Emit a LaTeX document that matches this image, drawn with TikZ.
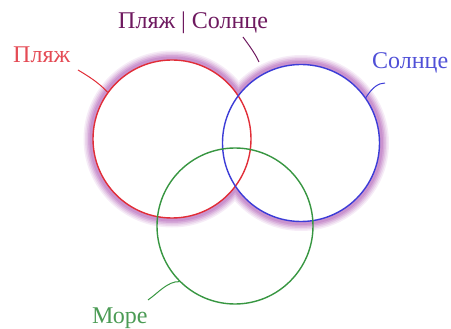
\documentclass[tikz,border=0pt]{standalone}
\usepackage{fontspec}
\setmainfont{Liberation Serif}
\definecolor{cred}{RGB}{225,45,55}
\definecolor{tred}{RGB}{228,75,85}
\definecolor{cblue}{RGB}{60,60,215}
\definecolor{tblue}{RGB}{80,80,215}
\definecolor{cgreen}{RGB}{55,150,65}
\definecolor{tgreen}{RGB}{75,155,85}
\definecolor{cpurple}{RGB}{110,25,95}
\definecolor{glowc}{RGB}{180,100,185}
\tikzset{
  ring/.style={circle, draw, line width=1.4pt, inner sep=0pt},
  lbl/.style={inner sep=0pt, anchor=base west, font=\fontsize{24}{28}\selectfont},
  leader/.style={line width=1pt}
}
\begin{document}
\begin{tikzpicture}[x=1pt,y=-1pt]
\useasboundingbox (0,0) rectangle (451,329);
\coordinate (cR) at (172,139);
\coordinate (cB) at (301,143);
\coordinate (cG) at (235,226);
% glow around the union of the two upper circles
\foreach \w/\p in {19/12,16/25,13/40,10/56,7/70}{
  \draw[glowc!\p, line width=\w pt] (cR) circle[radius=79];
  \draw[glowc!\p, line width=\w pt] (cB) circle[radius=78.5];
}
\fill[white] (cR) circle[radius=79] (cB) circle[radius=78.5];
% circles
\node[ring, draw=cred, minimum size=158pt] (red) at (cR) {};
\node[ring, draw=cblue, minimum size=157pt] (blue) at (cB) {};
\node[ring, draw=cgreen, minimum size=156pt] (green) at (cG) {};
% labels
\node[lbl, text=tred] (lred) at (13,63) {Пляж};
\node[lbl, text=cpurple] (lpur) at (118,29) {Пляж | Солнце};
\node[lbl, text=tblue] (lblue) at (372,69) {Солнце};
\node[lbl, text=tgreen] (lgreen) at (92,324) {Море};
% leader start / end points
\coordinate (aR) at (78,70);
\coordinate (aP) at (243,37);
\coordinate (eP) at (259,62);
\coordinate (aB) at (385,83);
\coordinate (aG) at (148,300);
\draw[leader, cred] (aR) .. controls (88,76) and (98,82) .. (red.144);
\draw[leader, cpurple] (aP) .. controls (248,44) and (255,53) .. (eP);
\draw[leader, cblue] (aB) .. controls (378,83) and (372,88) .. (blue.35);
\draw[leader, cgreen] (aG) .. controls (158,293) and (168,281) .. (green.225);
\end{tikzpicture}
\end{document}
